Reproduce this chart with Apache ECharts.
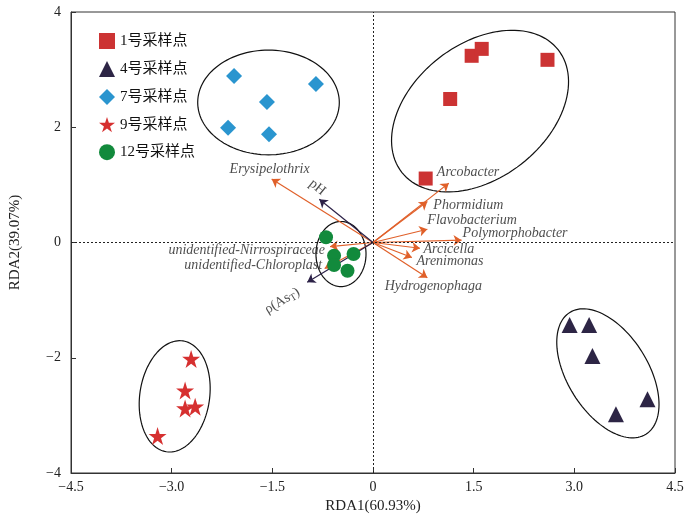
<!DOCTYPE html>
<html>
<head>
<meta charset="utf-8">
<script src="https://cdn.jsdelivr.net/npm/echarts@6/dist/echarts.min.js"></script>
<style>html,body{margin:0;padding:0;background:#fff}#c{width:700px;height:521px}</style>
</head>
<body>
<div id="c"></div>
<script>
// ---- data ----
const seriesNames = ['1号采样点', '4号采样点', '7号采样点', '9号采样点', '12号采样点'];
const site1 = [[1.47, 3.24], [1.62, 3.36], [2.60, 3.17], [1.15, 2.49], [0.785, 1.11]];
const site4 = [[2.93, -1.43], [3.22, -1.43], [3.27, -1.97], [4.09, -2.72], [3.62, -2.98]];
const site7 = [[-2.07, 2.89], [-0.85, 2.75], [-1.58, 2.44], [-2.16, 1.99], [-1.55, 1.88]];
const site9 = [[-2.71, -2.02], [-2.80, -2.57], [-2.80, -2.88], [-2.65, -2.85], [-3.21, -3.36]];
const site12 = [[-0.70, 0.09], [-0.29, -0.20], [-0.58, -0.23], [-0.58, -0.39], [-0.38, -0.49]];

const speciesNames = ['Arcobacter', 'Phormidium', 'Flavobacterium', 'Polymorphobacter', 'Arcicella', 'Arenimonas', 'Hydrogenophaga', 'Erysipelothrix', 'unidentified-Nirrospiraceae', 'unidentified-Chloroplast'];
const speciesX = [1.13, 0.81, 0.81, 1.32, 0.70, 0.58, 0.81, -1.51, -0.64, -0.72];
const speciesY = [1.03, 0.71, 0.23, 0.04, -0.10, -0.26, -0.61, 1.10, -0.07, -0.45];

const envNames = ['pH', 'ρ(AsT)'];
const envX = [-0.80, -0.98];
const envY = [0.75, -0.69];

// ellipse outlines: center x, center y, semi-major, semi-minor (x-axis units), screen angle (deg)
const ellipses = [
  [1.595, 2.28, 1.48, 1.0, -38],
  [3.50, -2.27, 1.07, 0.60, 58],
  [-1.557, 2.43, 1.055, 0.78, 0],
  [-2.955, -2.67, 0.835, 0.52, -81.5],
  [-0.477, -0.20, 0.485, 0.373, 90]
];

const xTickValues = [-4.5, -3, -1.5, 0, 1.5, 3, 4.5];
const xTickLabels = ['−4.5', '−3.0', '−1.5', '0', '1.5', '3.0', '4.5'];
const yTickValues = [-4, -2, 0, 2, 4];
const yTickLabels = ['−4', '−2', '0', '2', '4'];

// ---- styles ----
const SERIF = '"Liberation Serif", "Times New Roman", serif';
const CJK = '"Liberation Serif", "Noto Sans CJK SC", serif';
const ORANGE = '#e0602a';
const NAVY = '#2c2147';
const speciesLabelStyle = [
  {align: 'left', offset: [-12, -10.5]},
  {align: 'left', offset: [6, 3.5]},
  {align: 'left', offset: [0, -9]},
  {align: 'left', offset: [1, -6.5]},
  {align: 'left', offset: [3.5, 0.7]},
  {align: 'left', offset: [4.5, 4]},
  {align: 'center', offset: [6, 8.5]},
  {align: 'center', offset: [-2, -9.5]},
  {align: 'right', offset: [-5, 3.3]},
  {align: 'right', offset: [-2.5, -3.3]}
];
const envLabelStyle = [
  {align: 'center', offset: [-9, -8], rotate: -39},
  {align: 'center', offset: [-31, 3], rotate: 31}
];

const chart = echarts.init(document.getElementById('c'), null, {renderer: 'canvas'});

function fmt(values, labels) {
  return function (v) {
    for (let i = 0; i < values.length; i++) if (Math.abs(values[i] - v) < 1e-6) return labels[i];
    return '';
  };
}

const arrowData = [];
speciesNames.forEach((n, i) => arrowData.push({coords: [[0, 0], [speciesX[i], speciesY[i]]], lineStyle: {color: ORANGE}}));
envNames.forEach((n, i) => arrowData.push({coords: [[0, 0], [envX[i], envY[i]]], lineStyle: {color: NAVY}}));

const labelData = [];
speciesNames.forEach((n, i) => labelData.push({
  value: [speciesX[i], speciesY[i]], name: n,
  label: {align: speciesLabelStyle[i].align, offset: speciesLabelStyle[i].offset}
}));
envNames.forEach((n, i) => labelData.push({
  value: [envX[i], envY[i]], name: n,
  label: {align: envLabelStyle[i].align, offset: envLabelStyle[i].offset, rotate: envLabelStyle[i].rotate,
    fontStyle: 'normal',
    formatter: n === 'pH' ? 'pH' : 'ρ(As{sub|T})'}
}));

function pointSeries(name, data, symbol, size, color) {
  return {
    name, type: 'scatter', data, symbol, symbolSize: size, z: 5,
    itemStyle: {color, opacity: 1}
  };
}

const option = {
  animation: false,
  backgroundColor: '#fff',
  grid: {left: 71, right: 25, top: 12, bottom: 48, show: true, borderColor: '#333', borderWidth: 1},
  legend: {
    orient: 'vertical', left: 94, top: 28, itemGap: 12, itemWidth: 16, itemHeight: 16,
    data: seriesNames,
    textStyle: {fontFamily: CJK, fontSize: 15, color: '#111'}
  },
  xAxis: {
    type: 'value', min: -4.5, max: 4.5, interval: 1.5,
    name: 'RDA1(60.93%)', nameLocation: 'middle', nameGap: 25,
    nameTextStyle: {fontFamily: SERIF, fontSize: 15, color: '#222'},
    axisLine: {show: true, onZero: false, lineStyle: {color: '#333', width: 1}},
    axisTick: {show: true, inside: true, length: 5, lineStyle: {color: '#333'}},
    axisLabel: {formatter: fmt(xTickValues, xTickLabels), fontFamily: SERIF, fontSize: 14, color: '#222', margin: 7},
    splitLine: {show: false}
  },
  yAxis: {
    type: 'value', min: -4, max: 4, interval: 2,
    name: 'RDA2(39.07%)', nameLocation: 'middle', nameGap: 48,
    nameTextStyle: {fontFamily: SERIF, fontSize: 15, color: '#222'},
    axisLine: {show: true, onZero: false, lineStyle: {color: '#333', width: 1}},
    axisTick: {show: true, inside: true, length: 5, lineStyle: {color: '#333'}},
    axisLabel: {formatter: fmt(yTickValues, yTickLabels), fontFamily: SERIF, fontSize: 14, color: '#222', margin: 10},
    splitLine: {show: false}
  },
  series: [
    {
      name: 'ellipses', type: 'custom', z: 1, silent: true,
      data: ellipses,
      renderItem: function (params, api) {
        const c = api.coord([api.value(0), api.value(1)]);
        const unit = api.size([1, 0])[0];
        const a = api.value(2) * unit, b = api.value(3) * unit;
        const ang = api.value(4) * Math.PI / 180;
        const pts = [];
        for (let i = 0; i < 120; i++) {
          const t = i / 120 * Math.PI * 2;
          const x = a * Math.cos(t), y = b * Math.sin(t);
          pts.push([c[0] + x * Math.cos(ang) - y * Math.sin(ang), c[1] + x * Math.sin(ang) + y * Math.cos(ang)]);
        }
        return {type: 'polygon', shape: {points: pts}, style: {fill: 'none', stroke: '#111', lineWidth: 1.2}};
      },
      markLine: {
        silent: true, symbol: 'none', label: {show: false},
        lineStyle: {type: [2, 2], color: '#222', width: 1},
        data: [{xAxis: 0}, {yAxis: 0}]
      }
    },
    {
      name: 'arrows', type: 'lines', coordinateSystem: 'cartesian2d', z: 3, silent: true,
      symbol: ['none', 'arrow'], symbolSize: 8,
      lineStyle: {width: 1.2, opacity: 1, curveness: 0},
      data: arrowData
    },
    {
      name: 'arrowLabels', type: 'scatter', symbolSize: 0, z: 4, silent: true,
      data: labelData,
      label: {
        show: true, position: 'inside', formatter: '{b}', verticalAlign: 'middle',
        fontFamily: SERIF, fontSize: 14, fontStyle: 'italic', color: '#222',
        rich: {sub: {fontFamily: SERIF, fontSize: 10, verticalAlign: 'bottom', padding: [6, 0, 0, 0], color: '#222'}}
      }
    },
    pointSeries(seriesNames[0], site1, 'rect', 14, '#cc3333'),
    pointSeries(seriesNames[1], site4, 'triangle', 16, '#2d2545'),
    pointSeries(seriesNames[2], site7, 'diamond', 16, '#2a95cf'),
    pointSeries(seriesNames[3], site9, 'path://M50,0 L61.2,34.5 L97.6,34.5 L68.2,55.9 L79.4,90.5 L50,69.1 L20.6,90.5 L31.8,55.9 L2.4,34.5 L38.8,34.5 Z', 18, '#d63030'),
    pointSeries(seriesNames[4], site12, 'circle', 14, '#128a3c')
  ]
};
chart.setOption(option);
</script>
</body>
</html>
